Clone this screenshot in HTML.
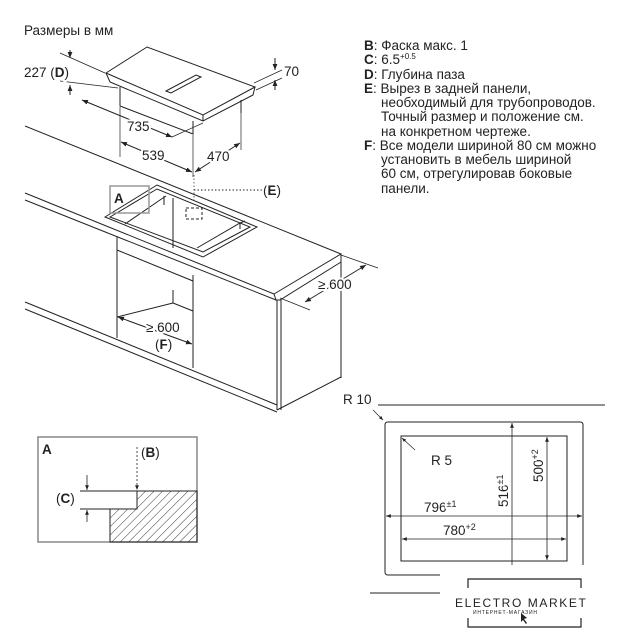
<!DOCTYPE html>
<html><head><meta charset="utf-8"><style>
html,body{margin:0;padding:0;background:#fff}
svg{display:block}
text{font-family:"Liberation Sans",Arial,sans-serif;fill:#222}
.h text{stroke:#fff;stroke-width:4;paint-order:stroke;stroke-linejoin:round}
</style></head><body>
<svg width="640" height="640" viewBox="0 0 640 640" xmlns="http://www.w3.org/2000/svg">
<defs>
<marker id="ar" viewBox="0 0 10 10" refX="10" refY="5" markerWidth="6" markerHeight="6" orient="auto-start-reverse"><path d="M0,1 L10,5 L0,9 z" fill="#222"/></marker>
<pattern id="hat" width="6" height="6" patternUnits="userSpaceOnUse" patternTransform="rotate(45)"><line x1="0" y1="0" x2="0" y2="6" stroke="#333" stroke-width="1"/></pattern>
</defs>
<g stroke="#222" stroke-width="1" fill="none">
<!-- hob -->
<polygon points="106,73 147,47 255,87 203,115" fill="#fff"/>
<polyline points="106,73 110,82 203,121 253,95 255,87"/>
<line x1="203" y1="115" x2="203" y2="121"/>
<polyline points="120,87 120,106 193,134 193,121"/>
<line x1="241" y1="100" x2="241" y2="113"/>
<polygon points="166,91 196,75 201,77 171,93"/>
<!-- hob dims -->
<line x1="60" y1="53" x2="105" y2="73" stroke-width="0.7"/>
<line x1="60" y1="81" x2="118" y2="88" stroke-width="0.7"/>
<line x1="70" y1="50" x2="70" y2="58" marker-end="url(#ar)"/>
<line x1="70" y1="95" x2="70" y2="85" marker-end="url(#ar)"/>
<line x1="254" y1="83" x2="282" y2="70" stroke-width="0.7"/>
<line x1="256" y1="90" x2="282" y2="78" stroke-width="0.7"/>
<line x1="275" y1="58" x2="275" y2="70" marker-end="url(#ar)"/>
<line x1="275" y1="90" x2="275" y2="80" marker-end="url(#ar)"/>
<line x1="82" y1="100" x2="172" y2="137" marker-start="url(#ar)" marker-end="url(#ar)"/>
<line x1="120" y1="107" x2="120" y2="157" stroke-width="0.7"/>
<line x1="193" y1="135" x2="193" y2="177" stroke-width="0.7"/>
<line x1="241" y1="113" x2="241" y2="150" stroke-width="0.7"/>
<line x1="172" y1="137" x2="203" y2="123" stroke-width="0.7"/>
<line x1="121" y1="142" x2="192" y2="172" marker-start="url(#ar)" marker-end="url(#ar)"/>
<line x1="195" y1="172" x2="240" y2="143" marker-start="url(#ar)" marker-end="url(#ar)"/>
<!-- counter -->
<line x1="25" y1="126" x2="341" y2="254"/>
<line x1="25" y1="193" x2="274" y2="294"/>
<line x1="25" y1="200" x2="276" y2="300"/>
<polyline points="274,294 341,254 341,262 280,300 276,300 274,294"/>
<line x1="341" y1="262" x2="341" y2="378"/>
<line x1="277" y1="300" x2="277" y2="410"/>
<line x1="281" y1="300" x2="281" y2="410"/>
<line x1="25" y1="302" x2="277" y2="405"/>
<line x1="25" y1="309" x2="277" y2="412"/>
<line x1="277" y1="410" x2="341" y2="377"/>
<line x1="117" y1="237" x2="117" y2="338"/>
<line x1="193" y1="275" x2="193" y2="368"/>
<line x1="173" y1="198" x2="173" y2="248"/>
<line x1="173" y1="290" x2="173" y2="303"/>
<line x1="117" y1="250" x2="193" y2="281"/>
<line x1="117" y1="317" x2="173" y2="303"/>
<line x1="173" y1="303" x2="193" y2="311"/>
<!-- cutout -->
<polygon points="105,217 157,185 257,227 203,257" fill="#fff"/>
<polygon points="110,217 157,189 250,227 203,252"/>
<polyline points="125,224 160,200 166,196"/>
<polyline points="197,248 240,223 245,221"/>
<line x1="164" y1="196" x2="164" y2="205"/>
<line x1="240" y1="223" x2="240" y2="229"/>
<line x1="173" y1="198" x2="173" y2="248"/>
<rect x="110" y="186" width="39" height="27" stroke="#999" stroke-width="1.5"/>
<line x1="194" y1="190" x2="262" y2="190" stroke-dasharray="1.5,2"/>
<line x1="194" y1="175" x2="194" y2="200" stroke-dasharray="1.5,2" stroke-width="0.7"/>
<rect x="186" y="208" width="16" height="11" stroke-dasharray="3,2"/>
<!-- >=600 right -->
<line x1="341" y1="255" x2="378" y2="268" stroke-width="0.7"/>
<line x1="280" y1="298" x2="310" y2="310" stroke-width="0.7"/>
<line x1="366" y1="265" x2="305" y2="302" marker-start="url(#ar)" marker-end="url(#ar)"/>
<!-- >=600 F -->
<line x1="118" y1="317" x2="192" y2="344" marker-start="url(#ar)" marker-end="url(#ar)"/>
<!-- cutout plan -->
<line x1="378" y1="405" x2="605" y2="405"/>
<line x1="370" y1="593" x2="440" y2="593"/>
<path d="M385,565 V425 Q385,422 388,422 H580 Q583,422 583,425 V565"/>
<path d="M385,565 V572 Q385,575 388,575 H440"/>
<rect x="401" y="436" width="166" height="125"/>
<line x1="373" y1="410" x2="383" y2="420" marker-end="url(#ar)" stroke-width="0.7"/>
<line x1="415" y1="450" x2="402" y2="438" marker-end="url(#ar)" stroke-width="0.7"/>
<line x1="512" y1="565" x2="512" y2="423" marker-end="url(#ar)" stroke-width="0.8"/>
<line x1="547" y1="437" x2="547" y2="560" marker-start="url(#ar)" marker-end="url(#ar)" stroke-width="0.8"/>
<line x1="386" y1="516" x2="582" y2="516" marker-start="url(#ar)" marker-end="url(#ar)" stroke-width="0.8"/>
<line x1="402" y1="539" x2="566" y2="539" marker-start="url(#ar)" marker-end="url(#ar)" stroke-width="0.8"/>
<!-- logo brackets -->
<polyline points="468,588 468,579 581,579 581,588" stroke-width="1.2"/>
<polyline points="468,618 468,627 581,627 581,618" stroke-width="1.2"/>
<!-- detail A -->
<rect x="38" y="437" width="159" height="105" stroke="#888" stroke-width="1.5"/>
<polygon points="110,542 110,509 137,509 137,491 197,491 197,542" fill="url(#hat)"/>
<line x1="80" y1="491" x2="137" y2="491"/>
<line x1="80" y1="509" x2="110" y2="509"/>
<line x1="87" y1="475" x2="87" y2="490" marker-end="url(#ar)" stroke-width="0.8"/>
<line x1="87" y1="522" x2="87" y2="510" marker-end="url(#ar)" stroke-width="0.8"/>
<line x1="137" y1="447" x2="137" y2="490" stroke-dasharray="2,2" marker-end="url(#ar)" stroke-width="0.8"/>
</g>
<g font-size="13.5" class="h">
<text x="24" y="35">Размеры в мм</text>
<text x="24" y="77">227 (<tspan font-weight="bold">D</tspan>)</text>
<text x="284" y="76">70</text>
<text x="127" y="131">735</text>
<text x="142" y="160">539</text>
<text x="207" y="161">470</text>
<text x="263" y="195">(<tspan font-weight="bold">E</tspan>)</text>
<text x="318" y="289">≥ 600</text>
<text x="146" y="332">≥ 600</text>
<text x="155" y="349">(<tspan font-weight="bold">F</tspan>)</text>
<text x="343" y="404">R 10</text>
<text x="431" y="465">R 5</text>
<text x="424" y="512">796<tspan font-size="9" dy="-5">±1</tspan></text>
<text x="443" y="535">780<tspan font-size="9" dy="-5">+2</tspan></text>
<text transform="translate(508,507) rotate(-90)">516<tspan font-size="9" dy="-5">±1</tspan></text>
<text transform="translate(543,482) rotate(-90)">500<tspan font-size="9" dy="-5">+2</tspan></text>
<text x="141" y="457">(<tspan font-weight="bold">B</tspan>)</text>
<text x="56" y="503">(<tspan font-weight="bold">C</tspan>)</text>
</g>
<g font-size="13.5">
<text x="114" y="203" font-weight="bold">A</text>
<text x="42" y="454" font-weight="bold">A</text>
<text x="364" y="50"><tspan font-weight="bold">B</tspan>: Фаска макс. 1</text>
<text x="364" y="64"><tspan font-weight="bold">C</tspan>: 6.5<tspan font-size="8" dy="-5">+0.5</tspan></text>
<text x="364" y="79"><tspan font-weight="bold">D</tspan>: Глубина паза</text>
<text x="364" y="93"><tspan font-weight="bold">E</tspan>: Вырез в задней панели,</text>
<text x="381" y="107">необходимый для трубопроводов.</text>
<text x="381" y="121">Точный размер и положение см.</text>
<text x="381" y="136">на конкретном чертеже.</text>
<text x="364" y="150"><tspan font-weight="bold">F</tspan>: Все модели шириной 80 см можно</text>
<text x="381" y="164">установить в мебель шириной</text>
<text x="381" y="178">60 см, отрегулировав боковые</text>
<text x="381" y="193">панели.</text>
</g>
<text x="455" y="607" font-size="12" letter-spacing="1.6">ELECTRO MARKET</text>
<text x="473" y="614" font-size="5" letter-spacing="0.8" fill="#555">ИНТЕРНЕТ-МАГАЗИН</text>
<path d="M521,613 L521,622 L523,620 L526,624 L527,623 L524,619 L527,618 z" fill="#222"/>
</svg>
</body></html>
